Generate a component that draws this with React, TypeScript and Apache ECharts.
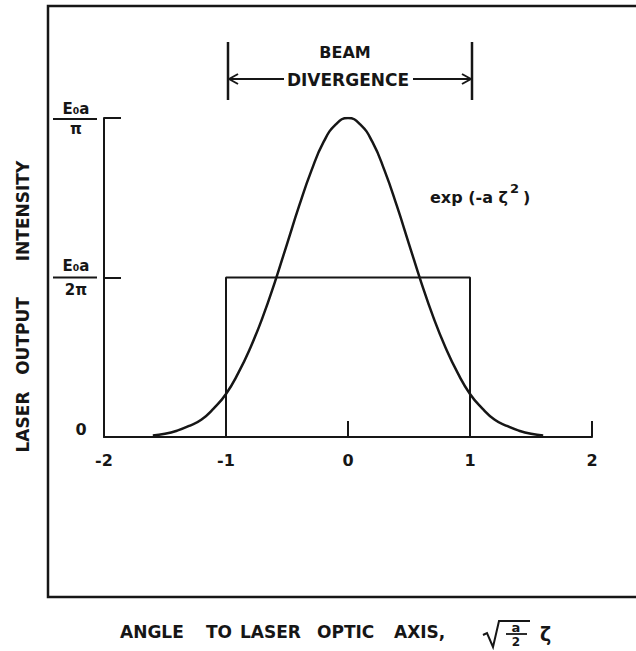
import React, { useEffect, useRef } from "react";
import * as echarts from "echarts";

// Normalised angle sqrt(a/2)·ζ (x) and intensity in units of E0a/2π (y)
const angle = [-1.6, -1.5, -1.4, -1.3, -1.2, -1.1, -1.0, -0.9, -0.8, -0.7, -0.6, -0.5, -0.4, -0.3, -0.2, -0.1, 0.0,
  0.1, 0.2, 0.3, 0.4, 0.5, 0.6, 0.7, 0.8, 0.9, 1.0, 1.1, 1.2, 1.3, 1.4, 1.5, 1.6];
const gaussIntensity = [0.01, 0.02, 0.04, 0.07, 0.11, 0.18, 0.27, 0.40, 0.56, 0.75, 0.97, 1.21, 1.45, 1.67, 1.85, 1.96, 2.00,
  1.96, 1.85, 1.67, 1.45, 1.21, 0.97, 0.75, 0.56, 0.40, 0.27, 0.18, 0.11, 0.07, 0.04, 0.02, 0.01];
// Top-hat (uniform beam) of the same energy
const rectAngle = [-1, -1, 1, 1];
const rectIntensity = [0, 1, 1, 0];
// Axis ticks
const xTicks = [-2, -1, 0, 1, 2];
const yTicks = [0, 1, 2];
const xTitleWords = ["ANGLE", "TO", "LASER", "OPTIC", "AXIS,"];
const yTitleWords = ["LASER", "OUTPUT", "INTENSITY"];

const INK = "#161616";
const FONT = "DejaVu Sans";

export default function App() {
  const ref = useRef<HTMLDivElement>(null);
  useEffect(() => {
    if (!ref.current) return;
    const chart = echarts.init(ref.current, undefined, { renderer: "svg" });
    chart.setOption({
      animation: false,
      backgroundColor: "#ffffff",
      grid: { left: 104, right: 44, top: 118, bottom: 214 },
      xAxis: {
        type: "value",
        min: xTicks[0],
        max: xTicks[xTicks.length - 1],
        interval: 1,
        axisLine: { onZero: false, lineStyle: { color: INK, width: 2 } },
        axisTick: { inside: true, length: 16, lineStyle: { color: INK, width: 2 } },
        axisLabel: { margin: 15, fontSize: 16, fontWeight: "bold", color: INK, fontFamily: FONT },
        splitLine: { show: false },
      },
      yAxis: {
        type: "value",
        min: yTicks[0],
        max: yTicks[yTicks.length - 1],
        interval: 1,
        axisLine: { show: true, onZero: false, lineStyle: { color: INK, width: 2 } },
        axisTick: { show: true, inside: true, length: 17, lineStyle: { color: INK, width: 2 } },
        axisLabel: { show: false },
        splitLine: { show: false },
      },
      series: [
        {
          type: "line",
          data: angle.map((a, i) => [a, gaussIntensity[i]]),
          smooth: true,
          showSymbol: false,
          lineStyle: { color: INK, width: 2.5 },
        },
        {
          type: "line",
          data: rectAngle.map((a, i) => [a, rectIntensity[i]]),
          showSymbol: false,
          lineStyle: { color: INK, width: 2 },
        },
      ],
    });

    const px = (x: number, y: number) => chart.convertToPixel({ xAxisIndex: 0, yAxisIndex: 0 }, [x, y]) as number[];
    const p0 = px(0, 0);
    const pL = px(-1, 0);
    const pR = px(1, 0);
    const pHalf = px(0, yTicks[1]);
    const pTop = px(0, yTicks[2]);
    const yAxisX = px(xTicks[0], 0)[0];
    const txt = (x: number, y: number, text: string, size: number, align = "center", extra: any = {}) => ({
      type: "text",
      x,
      y,
      ...extra,
      style: { text, fill: INK, fontSize: size, fontWeight: "bold", fontFamily: FONT, align, verticalAlign: "middle" },
    });
    const line = (x1: number, y1: number, x2: number, y2: number, w = 2) => ({
      type: "line",
      shape: { x1, y1, x2, y2 },
      style: { stroke: INK, lineWidth: w },
    });
    const labX = yAxisX - 29;
    const arrowY = 79;
    const xWordPos = [120, 206, 240, 317, 394];
    const yWordPos = [422, 336, 211];
    const titleY = 632;

    chart.setOption({
      graphic: [
        // outer frame
        { type: "rect", shape: { x: 48, y: 6, width: 700, height: 591 }, style: { fill: "none", stroke: INK, lineWidth: 2.5 } },
        // y axis labels
        txt(yAxisX - 23, p0[1] - 8, "0", 16),
        txt(labX + 1, pTop[1] - 9, "E₀a", 15),
        line(labX - 22, pTop[1] + 1, labX + 22, pTop[1] + 1, 1.8),
        txt(labX + 1, pTop[1] + 11, "π", 15),
        txt(labX + 1, pHalf[1] - 12, "E₀a", 15),
        line(labX - 22, pHalf[1], labX + 22, pHalf[1], 1.8),
        txt(labX + 1, pHalf[1] + 12, "2π", 15),
        // y axis title (rotated words)
        ...yTitleWords.map((w, i) => txt(23, yWordPos[i], w, 17, "center", { rotation: Math.PI / 2 })),
        // beam divergence marker
        line(pL[0] + 2, 42, pL[0] + 2, 100, 2.5),
        line(pR[0] + 2, 42, pR[0] + 2, 100, 2.5),
        txt(p0[0] - 3, 52, "BEAM", 16),
        txt(p0[0], 80, "DIVERGENCE", 17),
        line(pL[0] + 3, arrowY, p0[0] - 64, arrowY, 2),
        line(pL[0] + 3, arrowY, pL[0] + 12, arrowY - 5, 2),
        line(pL[0] + 3, arrowY, pL[0] + 12, arrowY + 5, 2),
        line(p0[0] + 65, arrowY, pR[0] + 1, arrowY, 2),
        line(pR[0] + 1, arrowY, pR[0] - 8, arrowY - 5, 2),
        line(pR[0] + 1, arrowY, pR[0] - 8, arrowY + 5, 2),
        // gaussian label
        txt(430, 197, "exp (-a ζ", 16, "left"),
        txt(510, 188, "2", 13, "left"),
        txt(523, 197, ")", 16, "left"),
        // x axis title
        ...xTitleWords.map((w, i) => txt(xWordPos[i], titleY, w, 17, "left")),
        { type: "polyline", shape: { points: [[483, 635], [487, 633], [493, 647], [499, 621], [530, 621]] }, style: { stroke: INK, lineWidth: 2, fill: "none" } },
        txt(516, 627, "a", 13),
        line(506, 634, 527, 634, 1.8),
        txt(516, 642, "2", 12),
        txt(540, 634, "ζ", 19, "left"),
      ],
    });
    return () => chart.dispose();
  }, []);
  return (
    <div
      ref={ref}
      style={{ position: "fixed", left: 0, top: 0, width: 636, height: 651, background: "#fff" }}
    />
  );
}
